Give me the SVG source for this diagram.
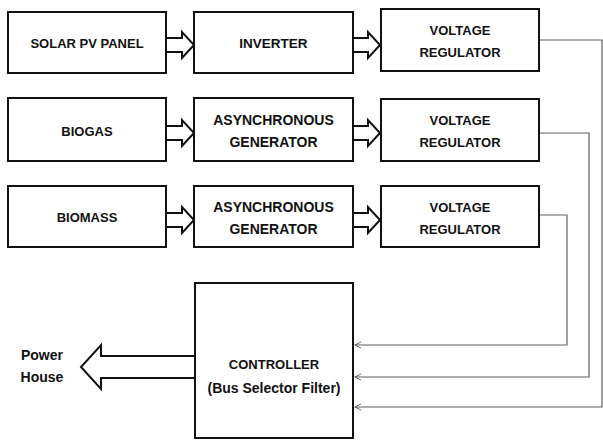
<svg xmlns="http://www.w3.org/2000/svg" width="603" height="440" viewBox="0 0 603 440">
<style>
.box{fill:#fff;stroke:#111;stroke-width:2}
.t{font-family:"Liberation Sans",Arial,sans-serif;font-weight:bold;font-size:13px;fill:#111;text-anchor:middle}
.g{font-size:14px}
.ba{fill:#fff;stroke:#111;stroke-width:2;stroke-linejoin:miter}
.wire{fill:none;stroke:#606060;stroke-width:1.2}
</style>
<defs>
<marker id="chev" markerWidth="9" markerHeight="9" refX="7.5" refY="4" orient="auto" markerUnits="userSpaceOnUse">
<path d="M1,1 L7,4 L1,7" fill="none" stroke="#606060" stroke-width="1"/>
</marker>
</defs>
<g id="connectors">
<path class="ba" d="M166,38 H182 V32 L194,45 L182,58 V52 H166"/>
<path class="ba" d="M353,38 H368 V32 L380,45 L368,58 V52 H353"/>
<path class="ba" d="M166,126 H182 V120 L194,133 L182,146 V140 H166"/>
<path class="ba" d="M353,126 H368 V120 L380,133 L368,146 V140 H353"/>
<path class="ba" d="M166,213 H182 V207 L194,220 L182,233 V227 H166"/>
<path class="ba" d="M353,213 H368 V207 L380,220 L368,233 V227 H353"/>
<path class="ba" d="M195,356 H101 V345 L81,367 L101,389 V378 H195"/>
</g>
<g id="solar"><rect class="box" x="8" y="12" width="158" height="61"/><text class="t" x="87" y="48">SOLAR PV PANEL</text></g>
<g id="inverter"><rect class="box" x="194" y="12" width="159" height="61"/><text class="t" x="273.5" y="48" style="font-size:13.5px">INVERTER</text></g>
<g id="vr1"><rect class="box" x="381" y="9" width="158" height="62"/><text class="t" x="460" y="35">VOLTAGE</text><text class="t" x="460" y="57">REGULATOR</text></g>
<g id="biogas"><rect class="box" x="8" y="98" width="158" height="63"/><text class="t" x="87" y="136">BIOGAS</text></g>
<g id="gen1"><rect class="box" x="194" y="98" width="159" height="63"/><text class="t g" x="273.5" y="125">ASYNCHRONOUS</text><text class="t g" x="273.5" y="147">GENERATOR</text></g>
<g id="vr2"><rect class="box" x="381" y="99" width="158" height="62"/><text class="t" x="460" y="125">VOLTAGE</text><text class="t" x="460" y="147">REGULATOR</text></g>
<g id="biomass"><rect class="box" x="8" y="186" width="158" height="61"/><text class="t" x="87" y="222">BIOMASS</text></g>
<g id="gen2"><rect class="box" x="194" y="186" width="159" height="61"/><text class="t g" x="273.5" y="212">ASYNCHRONOUS</text><text class="t g" x="273.5" y="234">GENERATOR</text></g>
<g id="vr3"><rect class="box" x="381" y="186" width="158" height="61"/><text class="t" x="460" y="212">VOLTAGE</text><text class="t" x="460" y="234">REGULATOR</text></g>
<g id="controller"><rect class="box" x="195" y="283" width="158" height="155"/><text class="t" x="274" y="369">CONTROLLER</text><text class="t g" x="274" y="393">(Bus Selector Filter)</text></g>
<g id="powerhouse"><text class="t g" x="42" y="360">Power</text><text class="t g" x="42" y="382">House</text></g>
<g id="wires">
<path class="wire" d="M540,40 H602 V407 H354.5" marker-end="url(#chev)"/>
<path class="wire" d="M540,133 H589 V377 H354.5" marker-end="url(#chev)"/>
<path class="wire" d="M540,215 H567 V345 H354.5" marker-end="url(#chev)"/>
</g>
</svg>
